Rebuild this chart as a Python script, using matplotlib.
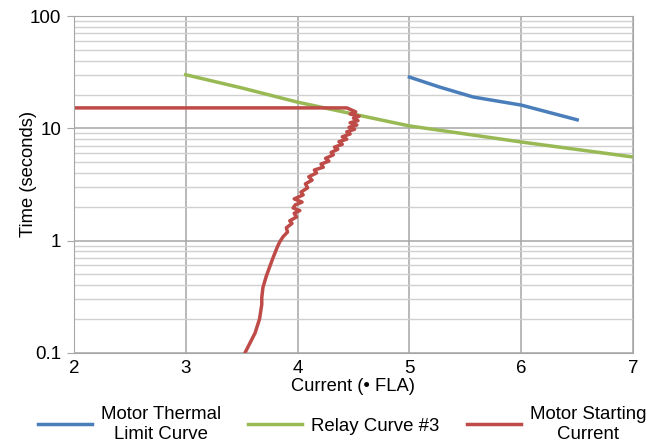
import numpy as np
import matplotlib
matplotlib.use('Agg')
import matplotlib.pyplot as plt
from matplotlib.ticker import FixedLocator, LogLocator, NullFormatter

# =============================================================================
# Data
# =============================================================================

#Motor thermal limit curve
thermal_x = [5.0, 5.27, 5.57, 6.0, 6.5]
thermal_t = [28.6, 23.3, 19.0, 16.1, 11.9]

#Relay curve #3
relay_x = [3.0, 3.5, 4.0, 4.74, 5.0, 6.0, 7.0]
relay_t = [30.0, 22.9, 17.1, 11.9, 10.5, 7.55, 5.55]

#Motor starting current
start_x = [2.0, 4.44, 4.48, 4.52, 4.47, 4.55, 4.50, 4.54, 4.47, 4.53, 4.46, 4.51,
           4.44, 4.47, 4.40, 4.44, 4.37, 4.40, 4.33, 4.36, 4.30, 4.32, 4.25, 4.28,
           4.21, 4.23, 4.15, 4.17, 4.10, 4.13, 4.07, 4.09, 4.03, 4.05, 3.97, 4.04,
           3.98, 3.96, 4.02, 3.97, 3.99, 3.93, 3.95, 3.90, 3.91, 3.87, 3.84, 3.82,
           3.78, 3.75, 3.72, 3.69, 3.68, 3.68, 3.66, 3.62, 3.53]
start_t = [15.2, 15.2, 14.6, 14.0, 13.4, 12.8, 12.3, 11.7, 11.2, 10.7, 10.2, 9.8,
           9.3, 8.9, 8.4, 8.0, 7.6, 7.2, 6.8, 6.5, 6.1, 5.8, 5.4, 5.1,
           4.8, 4.5, 4.25, 4.0, 3.7, 3.45, 3.2, 2.95, 2.7, 2.55, 2.35, 2.2,
           2.08, 1.95, 1.85, 1.75, 1.62, 1.5, 1.42, 1.3, 1.19, 1.08, 0.97, 0.88,
           0.70, 0.58, 0.48, 0.38, 0.31, 0.27, 0.2, 0.15, 0.1]

x_ticks = [2, 3, 4, 5, 6, 7]
y_ticks = [0.1, 1, 10, 100]
y_labels = ['0.1', '1', '10', '100']

# =============================================================================
# Plotting
# =============================================================================

plt.rcParams['font.family'] = ['Liberation Sans', 'DejaVu Sans']

fig = plt.figure(figsize=(6.48, 4.46), dpi=100)
ax = fig.add_axes([0.114, 0.209, 0.863, 0.755])

ax.plot(thermal_x, thermal_t, color='#4a7ebb', lw=2.5, label='Motor Thermal\nLimit Curve')
ax.plot(relay_x, relay_t, color='#98b954', lw=2.5, label='Relay Curve #3')
ax.plot(start_x, start_t, color='#be4b48', lw=2.5, label='Motor Starting\nCurrent')

ax.set_yscale('log')
ax.set_xlim(2, 7)
ax.set_ylim(0.1, 100)

ax.xaxis.set_major_locator(FixedLocator(x_ticks))
ax.set_xticklabels([str(v) for v in x_ticks])
ax.yaxis.set_major_locator(FixedLocator(y_ticks))
ax.set_yticklabels(y_labels)
ax.yaxis.set_minor_locator(LogLocator(base=10, subs=np.arange(2, 10)))
ax.yaxis.set_minor_formatter(NullFormatter())

ax.grid(which='major', axis='both', color='#a6a6a6', lw=1.1)
ax.grid(which='minor', axis='y', color='#d0d0d0', lw=1.0)
ax.set_axisbelow(True)

for s in ax.spines.values():
    s.set_color('#a6a6a6')
ax.tick_params(axis='x', length=0, labelsize=13.5, pad=5)
ax.tick_params(axis='y', which='major', length=5, color='#a6a6a6', labelsize=13.5, pad=4)
ax.tick_params(axis='y', which='minor', length=0)

ax.set_xlabel('Current (• FLA)', fontsize=13.2, labelpad=1)
ax.set_ylabel('Time (seconds)', fontsize=13.2)
ax.yaxis.set_label_coords(-0.066, 0.53)

leg = fig.legend(loc='lower center', bbox_to_anchor=(0.528, -0.03), ncol=3,
                 frameon=False, fontsize=13.4, handlelength=2.9,
                 columnspacing=1.45, handletextpad=0.5)
for t in leg.get_texts():
    t.set_multialignment('center')

plt.savefig('out.png', dpi=100)
